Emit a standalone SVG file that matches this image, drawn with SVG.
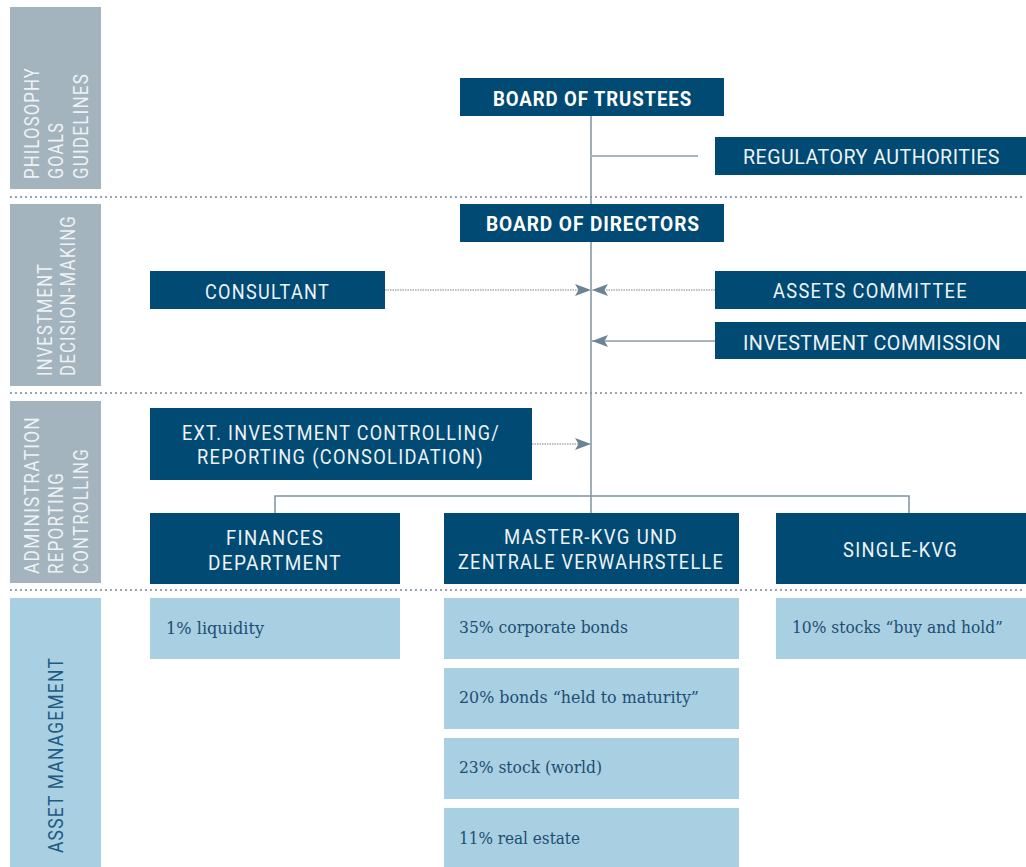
<svg xmlns="http://www.w3.org/2000/svg" width="1026" height="867" viewBox="0 0 1026 867">
<defs>
<style>
.side{fill:#a3b4be}
.sideA{fill:#a9cfe2}
.st{font-family:Roboto,"Liberation Sans",sans-serif;font-size:21px;font-weight:400;fill:#eef2f4;letter-spacing:1.5px}
.stA{font-family:Roboto,"Liberation Sans",sans-serif;font-size:21px;font-weight:400;fill:#1f5a82;letter-spacing:1.5px}
.box{fill:#004a74}
.bt{font-family:Roboto,"Liberation Sans",sans-serif;font-size:21px;font-weight:400;fill:#eef3f6;letter-spacing:1.5px}
.btn{font-family:Roboto,"Liberation Sans",sans-serif;font-size:20px;font-weight:400;fill:#eef3f6;letter-spacing:0.5px}
.bb{font-family:Roboto,"Liberation Sans",sans-serif;font-size:21px;font-weight:700;fill:#ffffff;letter-spacing:1px}
.dbox{fill:#a9cfe2}
.dt{font-family:"DejaVu Serif","Liberation Serif",serif;font-size:16px;fill:#1c4d73}
.sep{stroke:#7f929e;stroke-width:2.2;stroke-linecap:round;stroke-dasharray:0 5;fill:none}
.main{stroke:#7d93a1;stroke-width:1.5;fill:none}
.solid{stroke:#a9b6bf;stroke-width:2;fill:none}
.dot{stroke:#a3aeb6;stroke-width:1.5;stroke-dasharray:1.5 1;fill:none}
</style>
<marker id="arr" viewBox="0 0 16 12" refX="16" refY="6" markerWidth="16" markerHeight="12" markerUnits="userSpaceOnUse" orient="auto">
<path d="M16,6 L0,0 L3.5,6 L0,12 Z" fill="#6b8393"/>
</marker>
</defs>
<rect width="1026" height="867" fill="#ffffff"/>

<g id="sidebar">
<rect class="side" x="10" y="7" width="91" height="182"/>
<rect class="side" x="10" y="204" width="91" height="182"/>
<rect class="side" x="10" y="401" width="91" height="182"/>
<rect class="sideA" x="10" y="598" width="91" height="269"/>
<text class="st" transform="translate(39,179) rotate(-90)" textLength="112" lengthAdjust="spacingAndGlyphs">PHILOSOPHY</text>
<text class="st" transform="translate(63,179) rotate(-90)" textLength="57" lengthAdjust="spacingAndGlyphs">GOALS</text>
<text class="st" transform="translate(88,179) rotate(-90)" textLength="106" lengthAdjust="spacingAndGlyphs">GUIDELINES</text>
<text class="st" transform="translate(52,376) rotate(-90)" textLength="113" lengthAdjust="spacingAndGlyphs">INVESTMENT</text>
<text class="st" transform="translate(75,376) rotate(-90)" textLength="161" lengthAdjust="spacingAndGlyphs">DECISION-MAKING</text>
<text class="st" transform="translate(39,574) rotate(-90)" textLength="158" lengthAdjust="spacingAndGlyphs">ADMINISTRATION</text>
<text class="st" transform="translate(63,574) rotate(-90)" textLength="102" lengthAdjust="spacingAndGlyphs">REPORTING</text>
<text class="st" transform="translate(88,574) rotate(-90)" textLength="126" lengthAdjust="spacingAndGlyphs">CONTROLLING</text>
<text class="stA" transform="translate(63,853) rotate(-90)" textLength="196" lengthAdjust="spacingAndGlyphs">ASSET MANAGEMENT</text>
</g>

<g id="separators">
<line class="sep" x1="11" y1="197" x2="1026" y2="197"/>
<line class="sep" x1="11" y1="393" x2="1026" y2="393"/>
<line class="sep" x1="11" y1="590" x2="1026" y2="590"/>
</g>

<g id="connectors">
<line class="main" x1="591" y1="116" x2="591" y2="513"/>
<line class="solid" x1="591" y1="156" x2="698" y2="156"/>
<line class="dot" x1="385" y1="290" x2="591" y2="290" marker-end="url(#arr)"/>
<line class="dot" x1="715" y1="290" x2="592" y2="290" marker-end="url(#arr)"/>
<line class="solid" x1="715" y1="341" x2="592" y2="341" marker-end="url(#arr)"/>
<line class="dot" x1="532" y1="444" x2="591" y2="444" marker-end="url(#arr)"/>
<polyline class="main" points="275,513 275,496 909,496 909,513"/>
</g>

<g id="board-of-trustees">
<rect class="box" x="460" y="78" width="264" height="38"/>
<text class="bb" x="493" y="106" textLength="199" lengthAdjust="spacingAndGlyphs">BOARD OF TRUSTEES</text>
</g>
<g id="regulatory-authorities">
<rect class="box" x="715" y="137" width="311" height="38"/>
<text class="btn" x="743" y="164" textLength="257" lengthAdjust="spacingAndGlyphs">REGULATORY AUTHORITIES</text>
</g>
<g id="board-of-directors">
<rect class="box" x="460" y="204" width="264" height="38"/>
<text class="bb" x="486" y="231" textLength="214" lengthAdjust="spacingAndGlyphs">BOARD OF DIRECTORS</text>
</g>
<g id="consultant">
<rect class="box" x="150" y="271" width="235" height="38"/>
<text class="bt" x="205" y="299" textLength="125" lengthAdjust="spacingAndGlyphs">CONSULTANT</text>
</g>
<g id="assets-committee">
<rect class="box" x="715" y="271" width="311" height="38"/>
<text class="bt" x="773" y="298" textLength="195" lengthAdjust="spacingAndGlyphs">ASSETS COMMITTEE</text>
</g>
<g id="investment-commission">
<rect class="box" x="715" y="322" width="311" height="37"/>
<text class="btn" x="743" y="350" textLength="258" lengthAdjust="spacingAndGlyphs">INVESTMENT COMMISSION</text>
</g>
<g id="ext-investment-controlling">
<rect class="box" x="150" y="408" width="382" height="72"/>
<text class="bt" x="182" y="440" textLength="318" lengthAdjust="spacingAndGlyphs">EXT. INVESTMENT CONTROLLING/</text>
<text class="bt" x="197" y="464" textLength="287" lengthAdjust="spacingAndGlyphs">REPORTING (CONSOLIDATION)</text>
</g>
<g id="finances-department">
<rect class="box" x="150" y="513" width="250" height="71"/>
<text class="bt" x="226" y="545" textLength="98" lengthAdjust="spacingAndGlyphs">FINANCES</text>
<text class="bt" x="208" y="570" textLength="134" lengthAdjust="spacingAndGlyphs">DEPARTMENT</text>
</g>
<g id="master-kvg">
<rect class="box" x="444" y="513" width="295" height="71"/>
<text class="bt" x="504" y="544" textLength="174" lengthAdjust="spacingAndGlyphs">MASTER-KVG UND</text>
<text class="bt" x="458" y="569" textLength="266" lengthAdjust="spacingAndGlyphs">ZENTRALE VERWAHRSTELLE</text>
</g>
<g id="single-kvg">
<rect class="box" x="776" y="513" width="250" height="71"/>
<text class="bt" x="843" y="557" textLength="115" lengthAdjust="spacingAndGlyphs">SINGLE-KVG</text>
</g>

<g id="liquidity">
<rect class="dbox" x="150" y="598" width="250" height="61"/>
<text class="dt" x="166" y="634" textLength="98" lengthAdjust="spacingAndGlyphs">1% liquidity</text>
</g>
<g id="corporate-bonds">
<rect class="dbox" x="444" y="598" width="295" height="61"/>
<text class="dt" x="459" y="633" textLength="169" lengthAdjust="spacingAndGlyphs">35% corporate bonds</text>
</g>
<g id="bonds-htm">
<rect class="dbox" x="444" y="668" width="295" height="61"/>
<text class="dt" x="459" y="703" textLength="240" lengthAdjust="spacingAndGlyphs">20% bonds “held to maturity”</text>
</g>
<g id="stock-world">
<rect class="dbox" x="444" y="738" width="295" height="61"/>
<text class="dt" x="459" y="773" textLength="143" lengthAdjust="spacingAndGlyphs">23% stock (world)</text>
</g>
<g id="real-estate">
<rect class="dbox" x="444" y="808" width="295" height="59"/>
<text class="dt" x="459" y="844" textLength="121" lengthAdjust="spacingAndGlyphs">11% real estate</text>
</g>
<g id="stocks-buy-hold">
<rect class="dbox" x="776" y="598" width="250" height="61"/>
<text class="dt" x="792" y="633" textLength="211" lengthAdjust="spacingAndGlyphs">10% stocks “buy and hold”</text>
</g>
</svg>
